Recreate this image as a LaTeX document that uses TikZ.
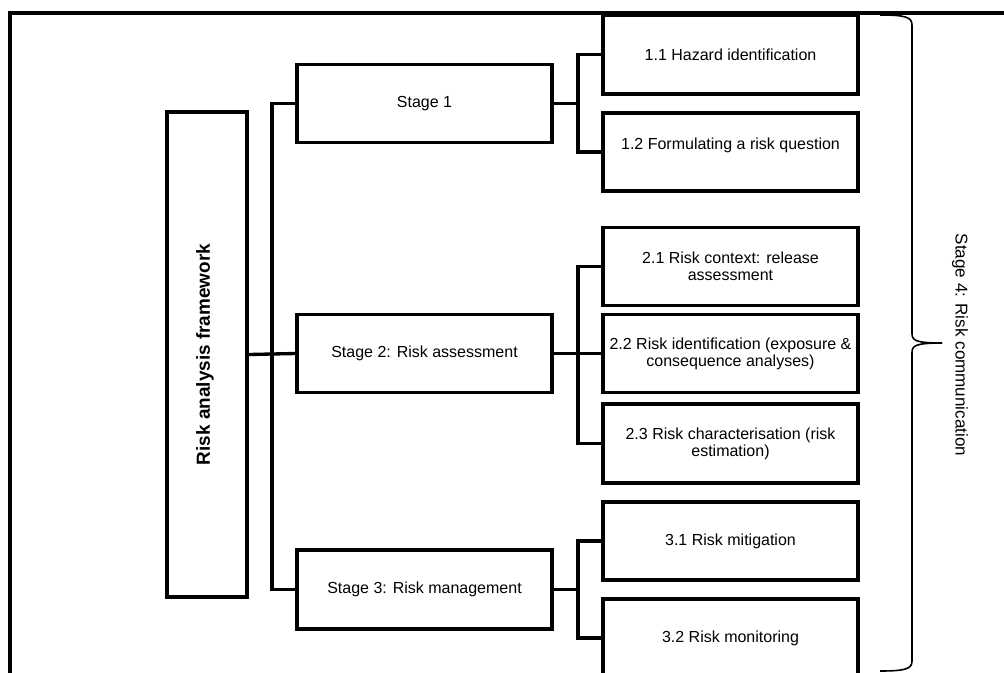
\documentclass[tikz,border=0pt]{standalone}
\usepackage{fontspec}
\setmainfont{Liberation Sans}
\begin{document}
\begin{tikzpicture}[x=0.75pt,y=-0.75pt,
  box/.style={draw=black,line width=2.5pt,fill=white,rectangle,inner sep=0pt,
    minimum width=191.25pt,minimum height=58.5pt,align=center,
    font=\fontsize{12}{12.9}\selectfont},
  conn/.style={draw=black,line width=2.5pt},
  bracestyle/.style={draw=black,line width=1.2pt}]
\clip (0,0) rectangle (1004,672);
\useasboundingbox (0,0) rectangle (1004,672);
% outer frame (only left and top visible)
\draw[line width=2.4pt] (10,680) -- (10,13) -- (1010,13);
% main box
\node[box,minimum width=60pt,minimum height=363.75pt] (fw) at (207,354.5) {};
\node[rotate=90,font=\fontsize{14.2}{16}\selectfont\bfseries] (fwt) at (205,354.5) {Risk analysis framework};
% stages
\node[box] (s1) at (424.5,103.5) {Stage 1};
\node[box] (s2) at (424.5,353.5) {Stage 2: Risk assessment};
\node[box,minimum height=59.25pt] (s3) at (424.5,589.5) {Stage 3: Risk management};
% sub-steps
\node[box,minimum height=59.25pt] (a1) at (730.5,54.5) {1.1 Hazard identification};
\node[box] (a2) at (730.5,152) {\raisebox{12pt}{1.2 Formulating a risk question}};
\node[box] (b1) at (730.5,266.5) {2.1 Risk context: release\\assessment};
\node[box] (b2) at (730.5,353.5) {2.2 Risk identification (exposure \&\\consequence analyses)};
\node[box,minimum height=59.25pt] (b3) at (730.5,443.5) {2.3 Risk characterisation (risk\\estimation)};
\node[box] (c1) at (730.5,541) {3.1 Risk mitigation};
\node[box] (c2) at (730.5,638) {3.2 Risk monitoring};
% trunk coordinates
\coordinate (t) at (272,0);
\coordinate (u) at (578,0);
% connectors
\draw[conn] (fw.east) -- (s2.west);
\draw[conn] (s1.west) -- (s1.west -| t) -- (s3.west -| t) -- (s3.west);
\draw[conn] (s1.east) -- (s1.east -| u);
\draw[conn] (a1.west) -- (a1.west -| u) -- (a2.west -| u) -- (a2.west);
\draw[conn] (s2.east) -- (b2.west);
\draw[conn] (b1.west) -- (b1.west -| u) -- (b3.west -| u) -- (b3.west);
\draw[conn] (s3.east) -- (s3.east -| u);
\draw[conn] (c1.west) -- (c1.west -| u) -- (c2.west -| u) -- (c2.west);
% brace
\draw[bracestyle] (880,15) .. controls (905,15) and (912,17) .. (912,25) -- (912,333)
  .. controls (912,340) and (914,343) .. (942,343);
\draw[bracestyle] (942,343) .. controls (914,343) and (912,346) .. (912,353) -- (912,661)
  .. controls (912,669) and (905,671) .. (880,671);
\node[rotate=-90,font=\fontsize{12.8}{14}\selectfont] (s4) at (960,345) {Stage 4: Risk communication};
\end{tikzpicture}
\end{document}
